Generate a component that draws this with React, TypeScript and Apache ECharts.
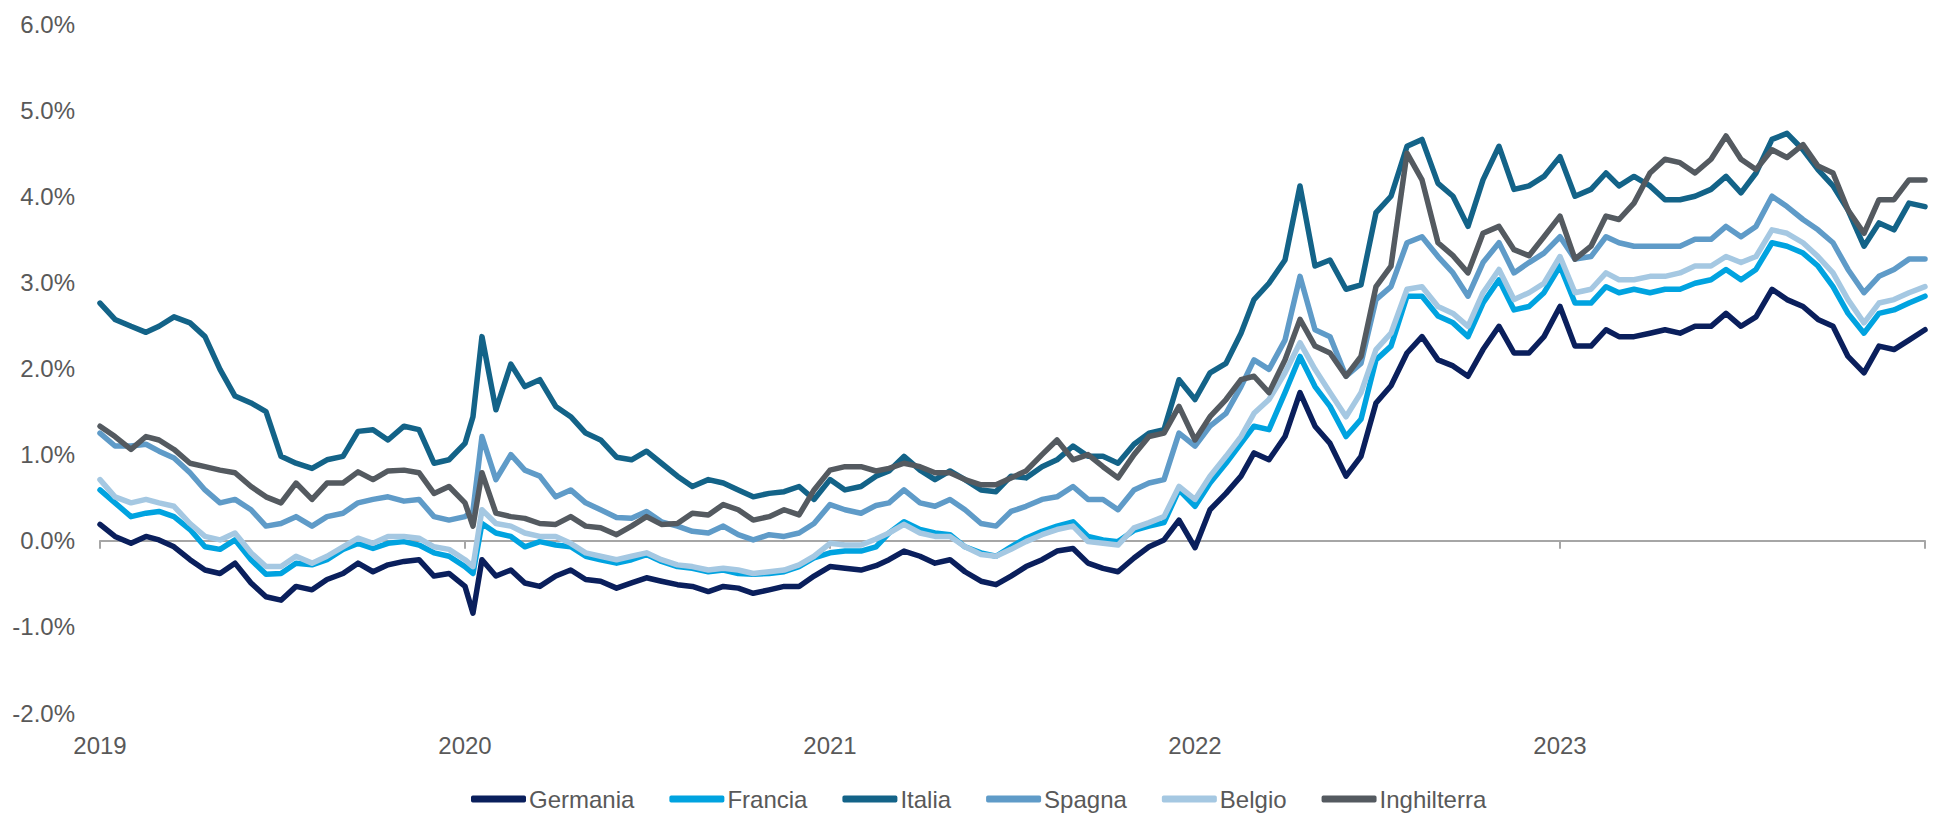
import React, { useEffect, useRef } from "react";
import * as echarts from "echarts";

// Sample dates (half-monthly), with an extra point around the early-2020 spike
const dates: string[] = [
  "2019-01-01","2019-01-16","2019-02-01","2019-02-16","2019-03-01","2019-03-16","2019-04-01","2019-04-16","2019-05-01","2019-05-16","2019-06-01","2019-06-16",
  "2019-07-01","2019-07-16","2019-08-01","2019-08-16","2019-09-01","2019-09-16","2019-10-01","2019-10-16","2019-11-01","2019-11-16","2019-12-01","2019-12-16",
  "2020-01-01","2020-01-09","2020-01-18","2020-02-01","2020-02-16","2020-03-01","2020-03-16","2020-04-01","2020-04-16","2020-05-01","2020-05-16","2020-06-01","2020-06-16",
  "2020-07-01","2020-07-16","2020-08-01","2020-08-16","2020-09-01","2020-09-16","2020-10-01","2020-10-16","2020-11-01","2020-11-16","2020-12-01","2020-12-16",
  "2021-01-01","2021-01-16","2021-02-01","2021-02-16","2021-03-01","2021-03-16","2021-04-01","2021-04-16","2021-05-01","2021-05-16","2021-06-01","2021-06-16",
  "2021-07-01","2021-07-16","2021-08-01","2021-08-16","2021-09-01","2021-09-16","2021-10-01","2021-10-16","2021-11-01","2021-11-16","2021-12-01","2021-12-16",
  "2022-01-01","2022-01-16","2022-02-01","2022-02-16","2022-03-01","2022-03-16","2022-04-01","2022-04-16","2022-05-01","2022-05-16","2022-06-01","2022-06-16",
  "2022-07-01","2022-07-16","2022-08-01","2022-08-16","2022-09-01","2022-09-16","2022-10-01","2022-10-16","2022-11-01","2022-11-16","2022-12-01","2022-12-16",
  "2023-01-01","2023-01-16","2023-02-01","2023-02-16","2023-03-01","2023-03-16","2023-04-01","2023-04-16","2023-05-01","2023-05-16","2023-06-01","2023-06-16",
  "2023-07-01","2023-07-16","2023-08-01","2023-08-16","2023-09-01","2023-09-16","2023-10-01","2023-10-16","2023-11-01","2023-11-16","2023-12-01","2023-12-16",
  "2024-01-01"
];

const germania: number[] = [
  0.19,0.05,-0.03,0.05,0.01,-0.07,-0.22,-0.34,-0.38,-0.26,-0.49,-0.65,
  -0.69,-0.53,-0.57,-0.45,-0.38,-0.26,-0.36,-0.28,-0.24,-0.22,-0.41,-0.38,
  -0.53,-0.84,-0.22,-0.41,-0.34,-0.49,-0.53,-0.41,-0.34,-0.45,-0.47,-0.55,-0.49,
  -0.43,-0.47,-0.51,-0.53,-0.59,-0.53,-0.55,-0.61,-0.57,-0.53,-0.53,-0.41,
  -0.30,-0.32,-0.34,-0.29,-0.22,-0.12,-0.18,-0.26,-0.22,-0.36,-0.47,-0.51,
  -0.41,-0.30,-0.22,-0.12,-0.09,-0.26,-0.32,-0.36,-0.20,-0.07,0.01,0.24,
  -0.08,0.36,0.55,0.75,1.02,0.94,1.21,1.72,1.33,1.13,0.75,0.98,
  1.60,1.80,2.18,2.37,2.10,2.03,1.91,2.22,2.49,2.18,2.18,2.37,
  2.72,2.26,2.26,2.45,2.37,2.37,2.41,2.45,2.41,2.49,2.49,2.64,
  2.49,2.60,2.92,2.80,2.72,2.57,2.49,2.14,1.95,2.26,2.22,2.33,
  2.45
];

const francia: number[] = [
  0.59,0.44,0.28,0.32,0.34,0.28,0.13,-0.07,-0.10,0.01,-0.22,-0.39,
  -0.38,-0.26,-0.28,-0.22,-0.10,-0.03,-0.09,-0.03,-0.01,-0.05,-0.14,-0.18,
  -0.30,-0.38,0.20,0.09,0.05,-0.07,-0.01,-0.05,-0.07,-0.18,-0.22,-0.26,-0.22,
  -0.16,-0.24,-0.30,-0.32,-0.36,-0.34,-0.38,-0.39,-0.38,-0.36,-0.30,-0.20,
  -0.14,-0.12,-0.12,-0.07,0.09,0.22,0.13,0.09,0.07,-0.07,-0.14,-0.18,
  -0.07,0.03,0.11,0.17,0.22,0.05,0.01,-0.01,0.12,0.17,0.21,0.59,
  0.40,0.67,0.90,1.13,1.33,1.29,1.72,2.14,1.79,1.56,1.21,1.41,
  2.10,2.26,2.84,2.84,2.61,2.53,2.37,2.76,3.03,2.68,2.72,2.88,
  3.19,2.76,2.76,2.95,2.88,2.92,2.88,2.92,2.92,2.99,3.03,3.15,
  3.03,3.15,3.46,3.42,3.34,3.19,2.95,2.64,2.41,2.64,2.68,2.76,
  2.84
];

const italia: number[] = [
  2.76,2.57,2.49,2.42,2.49,2.60,2.53,2.37,1.99,1.68,1.60,1.50,
  0.98,0.90,0.84,0.94,0.98,1.27,1.29,1.17,1.33,1.29,0.90,0.94,
  1.13,1.44,2.37,1.52,2.05,1.79,1.87,1.56,1.44,1.25,1.17,0.97,0.94,
  1.04,0.90,0.75,0.63,0.71,0.67,0.59,0.51,0.55,0.57,0.63,0.48,
  0.71,0.59,0.63,0.75,0.81,0.98,0.82,0.71,0.81,0.71,0.59,0.57,
  0.75,0.73,0.86,0.94,1.10,0.98,0.98,0.90,1.12,1.25,1.29,1.87,
  1.64,1.95,2.06,2.41,2.80,2.99,3.26,4.12,3.19,3.26,2.92,2.97,
  3.81,4.00,4.58,4.66,4.15,4.00,3.65,4.19,4.58,4.08,4.12,4.23,
  4.46,4.00,4.08,4.27,4.12,4.23,4.12,3.96,3.96,4.00,4.08,4.23,
  4.04,4.27,4.66,4.73,4.54,4.31,4.12,3.84,3.42,3.69,3.61,3.92,
  3.88
];

const spagna: number[] = [
  1.25,1.10,1.10,1.12,1.04,0.96,0.79,0.59,0.44,0.48,0.36,0.17,
  0.20,0.28,0.17,0.28,0.32,0.44,0.48,0.51,0.46,0.48,0.28,0.24,
  0.28,0.35,1.21,0.71,1.00,0.82,0.75,0.51,0.59,0.44,0.36,0.27,0.26,
  0.34,0.22,0.17,0.11,0.09,0.17,0.07,0.01,0.07,0.05,0.09,0.20,
  0.42,0.36,0.32,0.41,0.44,0.59,0.44,0.40,0.48,0.36,0.20,0.17,
  0.34,0.40,0.48,0.51,0.63,0.48,0.48,0.36,0.59,0.67,0.71,1.25,
  1.10,1.33,1.48,1.79,2.10,1.99,2.33,3.07,2.45,2.37,1.91,2.06,
  2.80,2.95,3.46,3.53,3.30,3.11,2.84,3.23,3.46,3.11,3.23,3.34,
  3.53,3.27,3.30,3.53,3.46,3.42,3.42,3.42,3.42,3.50,3.50,3.65,
  3.53,3.65,4.00,3.88,3.73,3.61,3.46,3.15,2.88,3.07,3.15,3.27,
  3.27
];

const belgio: number[] = [
  0.71,0.51,0.44,0.48,0.44,0.40,0.20,0.05,0.01,0.09,-0.14,-0.30,
  -0.30,-0.18,-0.26,-0.18,-0.07,0.03,-0.03,0.05,0.05,0.03,-0.07,-0.10,
  -0.22,-0.30,0.36,0.20,0.17,0.09,0.05,0.05,-0.03,-0.14,-0.18,-0.22,-0.18,
  -0.14,-0.22,-0.28,-0.30,-0.34,-0.32,-0.34,-0.38,-0.36,-0.34,-0.28,-0.18,
  -0.03,-0.05,-0.05,0.02,0.09,0.19,0.09,0.05,0.05,-0.07,-0.16,-0.18,
  -0.10,-0.01,0.07,0.13,0.17,-0.01,-0.03,-0.05,0.15,0.21,0.28,0.63,
  0.48,0.75,0.98,1.21,1.48,1.64,1.95,2.30,1.99,1.72,1.44,1.72,
  2.22,2.41,2.92,2.95,2.72,2.64,2.49,2.88,3.15,2.80,2.88,2.99,
  3.30,2.88,2.92,3.11,3.03,3.03,3.07,3.07,3.11,3.19,3.19,3.30,
  3.23,3.30,3.61,3.57,3.46,3.30,3.11,2.80,2.53,2.76,2.80,2.88,
  2.95
];

const inghilterra: number[] = [
  1.33,1.21,1.06,1.21,1.17,1.06,0.90,0.86,0.82,0.79,0.63,0.51,
  0.44,0.67,0.48,0.67,0.67,0.80,0.71,0.81,0.82,0.79,0.55,0.63,
  0.44,0.17,0.79,0.32,0.28,0.26,0.20,0.19,0.28,0.17,0.15,0.07,0.17,
  0.28,0.19,0.20,0.32,0.30,0.42,0.36,0.24,0.28,0.36,0.30,0.59,
  0.82,0.86,0.86,0.81,0.84,0.90,0.86,0.79,0.79,0.71,0.65,0.65,
  0.73,0.81,1.00,1.17,0.94,1.00,0.86,0.73,1.00,1.21,1.25,1.56,
  1.17,1.44,1.64,1.87,1.91,1.72,2.10,2.57,2.26,2.18,1.91,2.14,
  2.95,3.19,4.50,4.19,3.46,3.31,3.11,3.57,3.65,3.38,3.31,3.53,
  3.77,3.27,3.42,3.77,3.73,3.92,4.27,4.43,4.39,4.27,4.43,4.70,
  4.43,4.31,4.54,4.45,4.60,4.35,4.27,3.84,3.57,3.96,3.96,4.19,
  4.19
];

const seriesNames = ["Germania", "Francia", "Italia", "Spagna", "Belgio", "Inghilterra"];
const seriesColors = ["#0A1F5C", "#00A3E0", "#136388", "#5F9BC8", "#A5C8E2", "#545A60"];
const seriesValues = [germania, francia, italia, spagna, belgio, inghilterra];

const yTicks = { min: -2, max: 6, interval: 1 };
const xTicks = { min: 2019, max: 2024, interval: 1 };

function toYearFraction(d: string): number {
  const [y, m, day] = d.split("-").map(Number);
  const start = Date.UTC(y, 0, 1);
  const end = Date.UTC(y + 1, 0, 1);
  const cur = Date.UTC(y, m - 1, day);
  return y + (cur - start) / (end - start);
}

const FONT = "'Liberation Sans', Arial, sans-serif";
const GREY_TEXT = "#595959";
const AXIS_GREY = "#A6A6A6";

export default function App() {
  const ref = useRef<HTMLDivElement>(null);

  useEffect(() => {
    if (!ref.current) return;
    const chart = echarts.init(ref.current, undefined, { renderer: "svg" });
    const xs = dates.map(toYearFraction);

    chart.setOption({
      animation: false,
      backgroundColor: "#ffffff",
      textStyle: { fontFamily: FONT },
      grid: { left: 100, right: 12, top: 24, bottom: 101, containLabel: false },
      legend: {
        data: seriesNames,
        top: 785,
        left: 466,
        padding: [0, 5, 0, 5],
        icon: "roundRect",
        itemWidth: 55,
        itemHeight: 7,
        itemGap: 35,
        textStyle: { fontFamily: FONT, fontSize: 24, lineHeight: 28, color: GREY_TEXT, padding: [0, 0, 0, -2] },
      },
      xAxis: [
        {
          type: "value",
          min: xTicks.min,
          max: xTicks.max,
          interval: xTicks.interval,
          position: "bottom",
          axisLine: { show: false, onZero: false },
          axisTick: { show: false },
          splitLine: { show: false },
          axisLabel: {
            fontFamily: FONT,
            fontSize: 24,
            color: GREY_TEXT,
            margin: 20,
            formatter: (v: number) => (v < xTicks.max ? String(v) : ""),
          },
        },
        {
          type: "value",
          min: xTicks.min,
          max: xTicks.max,
          interval: xTicks.interval,
          position: "bottom",
          axisLine: { show: true, onZero: true, lineStyle: { color: AXIS_GREY, width: 2 } },
          axisTick: { show: true, length: 8, lineStyle: { color: AXIS_GREY, width: 2 } },
          splitLine: { show: false },
          axisLabel: { show: false },
        },
      ],
      yAxis: {
        type: "value",
        min: yTicks.min,
        max: yTicks.max,
        interval: yTicks.interval,
        axisLine: { show: false },
        axisTick: { show: false },
        splitLine: { show: false },
        axisLabel: {
          fontFamily: FONT,
          fontSize: 24,
          color: GREY_TEXT,
          margin: 25,
          formatter: (v: number) => v.toFixed(1) + "%",
        },
      },
      series: seriesNames.map((name, k) => ({
        name,
        type: "line",
        xAxisIndex: 0,
        showSymbol: false,
        symbol: "none",
        smooth: false,
        color: seriesColors[k],
        lineStyle: { width: 5.5, color: seriesColors[k], join: "round", cap: "round" },
        data: seriesValues[k].map((v, i) => [xs[i], v]),
      })),
    });

    return () => chart.dispose();
  }, []);

  return (
    <div
      ref={ref}
      style={{ position: "fixed", left: 0, top: 0, width: "1937px", height: "814px", background: "#fff" }}
    />
  );
}
